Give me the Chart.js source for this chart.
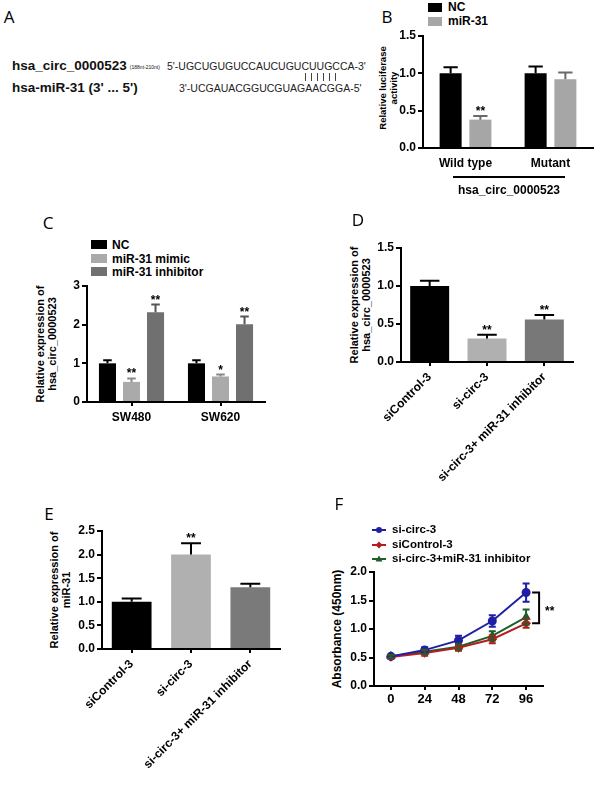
<!DOCTYPE html>
<html>
<head>
<meta charset="utf-8">
<script src="https://cdn.jsdelivr.net/npm/chart.js@4.4.1/dist/chart.umd.min.js"></script>
<style>
  html, body { margin: 0; padding: 0; background: #fff; }
  #page { position: relative; width: 600px; height: 785px; overflow: hidden;
          font-family: 'Liberation Sans', Arial, sans-serif; color: #000; }
  canvas { position: absolute; }
  .t { position: absolute; white-space: nowrap; line-height: 1; }
  .mid { transform: translate(-50%, -50%); }
  .vmid { transform: translateY(-50%); }
  .letter { font-family: 'Open Sans', sans-serif; font-size: 17px; }
  .ytitle { position: absolute; white-space: nowrap; text-align: center; font-weight: bold;
            font-size: 11px; line-height: 12px; transform: translate(-50%, -50%) rotate(-90deg); }
  .leg { position: absolute; white-space: nowrap; font-weight: bold; font-size: 12px; line-height: 1;
         transform: translateY(-50%); }
  .sw { position: absolute; }
  .seq { font-size: 10.5px; color: #222; }
  .pair { position: absolute; top: 73px; width: 1px; height: 8px; background: #444; }
</style>
</head>
<body>
<div id="page">

  <!-- A -->
  <div class="t letter mid" style="left:9px;top:16px">A</div>
  <div class="t vmid" style="left:12px;top:66px;font-weight:bold;font-size:13.5px;color:#111">hsa_circ_0000523<span style="font-size:5px;font-weight:normal;margin-left:3px;vertical-align:1px">(188nt-210nt)</span></div>
  <div class="t vmid seq" style="left:167px;top:66px">5'-UGCUGUGUCCAUCUGUCUUGCCA-3'</div>
  <div class="pair" style="left:305px"></div>
  <div class="pair" style="left:311px"></div>
  <div class="pair" style="left:317px"></div>
  <div class="pair" style="left:323px"></div>
  <div class="pair" style="left:329px"></div>
  <div class="pair" style="left:335px"></div>
  <div class="t vmid" style="left:12px;top:88px;font-weight:bold;font-size:13.5px;color:#111">hsa-miR-31 (3' ... 5')</div>
  <div class="t vmid seq" style="left:179px;top:88px">3'-UCGAUACGGUCGUAGAACGGA-5'</div>

  <!-- B -->
  <div class="t letter mid" style="left:387px;top:16px">B</div>
  <div class="sw" style="left:428px;top:3px;width:14px;height:9px;background:#000"></div>
  <div class="leg" style="left:448px;top:7px">NC</div>
  <div class="sw" style="left:428px;top:17px;width:14px;height:9px;background:#a6a6a6"></div>
  <div class="leg" style="left:448px;top:21px">miR-31</div>
  <div class="ytitle" style="left:388px;top:88px;font-size:9.5px;line-height:11px">Relative luciferase<br>activity</div>
  <canvas id="chartB" width="207" height="174" style="left:393px;top:26px"></canvas>
  <div style="position:absolute;left:453px;top:176px;width:112px;height:2px;background:#000"></div>
  <div class="t mid" style="left:509px;top:190px;font-weight:bold;font-size:12px">hsa_circ_0000523</div>

  <!-- C -->
  <div class="t letter mid" style="left:48px;top:222px">C</div>
  <div class="sw" style="left:91px;top:240px;width:16px;height:9px;background:#000"></div>
  <div class="leg" style="left:112px;top:245px">NC</div>
  <div class="sw" style="left:91px;top:254px;width:16px;height:9px;background:#aaaaaa"></div>
  <div class="leg" style="left:112px;top:259px">miR-31 mimic</div>
  <div class="sw" style="left:91px;top:267px;width:16px;height:9px;background:#707070"></div>
  <div class="leg" style="left:112px;top:272px">miR-31 inhibitor</div>
  <div class="ytitle" style="left:46px;top:344px">Relative expression of<br>hsa_circ_0000523</div>
  <canvas id="chartC" width="215" height="154" style="left:57px;top:276px"></canvas>

  <!-- D -->
  <div class="t letter mid" style="left:358px;top:219px">D</div>
  <div class="ytitle" style="left:360px;top:305px">Relative expression of<br>hsa_circ_0000523</div>
  <canvas id="chartD" width="300" height="262" style="left:300px;top:238px"></canvas>

  <!-- E -->
  <div class="t letter mid" style="left:49px;top:513px">E</div>
  <div class="ytitle" style="left:60px;top:590px">Relative expression of<br>miR-31</div>
  <canvas id="chartE" width="300" height="264" style="left:0px;top:521px"></canvas>

  <!-- F -->
  <div class="t letter mid" style="left:339px;top:503px">F</div>
  <svg class="sw" style="left:370px;top:524px" width="18" height="42">
    <line x1="2" y1="6" x2="16" y2="6" stroke="#1f1fa6" stroke-width="2"/>
    <circle cx="9" cy="6" r="3" fill="#1f1fa6"/>
    <line x1="2" y1="21" x2="16" y2="21" stroke="#b41e1e" stroke-width="2"/>
    <path d="M9 17.5 L12.5 21 L9 24.5 L5.5 21 Z" fill="#b41e1e"/>
    <line x1="2" y1="35" x2="16" y2="35" stroke="#1e5e2c" stroke-width="2"/>
    <path d="M9 31.5 L12.5 37.5 L5.5 37.5 Z" fill="#1e5e2c"/>
  </svg>
  <div class="leg" style="left:392px;top:530px;font-size:11.5px">si-circ-3</div>
  <div class="leg" style="left:392px;top:545px;font-size:11.5px">siControl-3</div>
  <div class="leg" style="left:392px;top:559px;font-size:11.5px">si-circ-3+miR-31 inhibitor</div>
  <div class="ytitle" style="left:337px;top:629px;font-size:12px">Absorbance (450nm)</div>
  <canvas id="chartF" width="300" height="150" style="left:300px;top:562px"></canvas>
</div>

<script>
'use strict';

// B - luciferase
var bCategories = ['Wild type', 'Mutant'];
var bNC = [1.0, 1.0];
var bNCErr = [0.08, 0.09];
var bMiR = [0.38, 0.92];
var bMiRErr = [0.05, 0.09];
var bMiRMarks = ['**', ''];
var bTicks = [0, 0.5, 1.0, 1.5];

// C - expression after mimic / inhibitor
var cCategories = ['SW480', 'SW620'];
var cNC = [1.0, 1.0];
var cNCErr = [0.08, 0.08];
var cMimic = [0.52, 0.66];
var cMimicErr = [0.09, 0.05];
var cMimicMarks = ['**', '*'];
var cInhib = [2.32, 2.01];
var cInhibErr = [0.2, 0.2];
var cInhibMarks = ['**', '**'];
var cTicks = [0, 1, 2, 3];

// D - hsa_circ_0000523 expression
var dCategories = ['siControl-3', 'si-circ-3', 'si-circ-3+ miR-31 inhibitor'];
var dValues = [1.0, 0.31, 0.56];
var dErr = [0.07, 0.05, 0.06];
var dMarks = ['', '**', '**'];
var dTicks = [0, 0.5, 1.0, 1.5];

// E - miR-31 expression
var eCategories = ['siControl-3', 'si-circ-3', 'si-circ-3+ miR-31 inhibitor'];
var eValues = [1.0, 2.0, 1.31];
var eErr = [0.07, 0.24, 0.07];
var eMarks = ['', '**', ''];
var eTicks = [0, 0.5, 1.0, 1.5, 2.0, 2.5];

// F - CCK-8 absorbance
var fTimes = ['0', '24', '48', '72', '96'];
var fSiCirc = [0.52, 0.63, 0.80, 1.14, 1.64];
var fSiCircErr = [0.03, 0.05, 0.08, 0.10, 0.16];
var fSiControl = [0.51, 0.58, 0.67, 0.82, 1.10];
var fSiControlErr = [0.03, 0.05, 0.05, 0.07, 0.08];
var fRescue = [0.52, 0.60, 0.69, 0.88, 1.21];
var fRescueErr = [0.03, 0.04, 0.05, 0.08, 0.13];
var fTicks = [0, 0.5, 1.0, 1.5, 2.0];

Chart.defaults.font.family = "'Liberation Sans', Arial, sans-serif";
Chart.defaults.color = '#000';

var BOLD = { size: 12, weight: 'bold' };

// error bars + significance stars, drawn from the chart's own scales
var errorBarPlugin = {
  id: 'errorBars',
  afterDatasetsDraw: function (chart) {
    var ctx = chart.ctx;
    var y = chart.scales.y;
    chart.data.datasets.forEach(function (ds, di) {
      if (!ds.errors) return;
      var meta = chart.getDatasetMeta(di);
      meta.data.forEach(function (el, i) {
        var v = ds.data[i], e = ds.errors[i];
        var top = y.getPixelForValue(v + e);
        var bottom = ds.bothWays ? y.getPixelForValue(v - e) : el.y;
        var cap = ds.capWidth || (el.width * (ds.capRatio || 0.5));
        ctx.save();
        ctx.strokeStyle = ds.errorColor || '#000';
        ctx.lineWidth = 2;
        ctx.beginPath();
        ctx.moveTo(el.x, bottom);
        ctx.lineTo(el.x, top);
        ctx.moveTo(el.x - cap / 2, top);
        ctx.lineTo(el.x + cap / 2, top);
        if (ds.bothWays) {
          ctx.moveTo(el.x - cap / 2, bottom);
          ctx.lineTo(el.x + cap / 2, bottom);
        }
        ctx.stroke();
        if (ds.marks && ds.marks[i]) {
          ctx.fillStyle = '#000';
          ctx.font = 'bold 12px ' + Chart.defaults.font.family;
          ctx.textAlign = 'center';
          ctx.textBaseline = 'alphabetic';
          ctx.fillText(ds.marks[i], el.x, top - 1);
        }
        ctx.restore();
      });
    });
  }
};

// bracket on panel F between si-circ-3 and siControl-3 at the last time point
var bracketPlugin = {
  id: 'bracket',
  afterDraw: function (chart) {
    var ctx = chart.ctx;
    var last = fTimes.length - 1;
    var x0 = chart.scales.x.getPixelForValue(last) + 6;
    var x1 = x0 + 7;
    var yTop = chart.scales.y.getPixelForValue(fSiCirc[last]);
    var yBot = chart.scales.y.getPixelForValue(fSiControl[last]);
    ctx.save();
    ctx.strokeStyle = '#000';
    ctx.lineWidth = 2;
    ctx.beginPath();
    ctx.moveTo(x0, yTop); ctx.lineTo(x1, yTop); ctx.lineTo(x1, yBot); ctx.lineTo(x0, yBot);
    ctx.stroke();
    ctx.fillStyle = '#000';
    ctx.font = 'bold 12px ' + Chart.defaults.font.family;
    ctx.textAlign = 'left';
    ctx.textBaseline = 'alphabetic';
    ctx.fillText('**', x1 + 6, (yTop + yBot) / 2 + 7);
    ctx.restore();
  }
};

function yAxis(ticks, width, digits) {
  return {
    min: ticks[0],
    max: ticks[ticks.length - 1],
    afterBuildTicks: function (s) {
      s.ticks = ticks.map(function (v) { return { value: v }; });
    },
    ticks: {
      font: BOLD,
      padding: 2,
      callback: function (v) { return Number(v).toFixed(digits); }
    },
    grid: { drawOnChartArea: false, drawTicks: true, tickLength: 5, color: '#000', lineWidth: 2 },
    border: { color: '#000', width: 2 },
    afterFit: function (s) { s.width = width; }
  };
}

function xAxis(height, o) {
  return {
    offset: true,
    ticks: {
      font: o.font || BOLD,
      padding: o.padding,
      autoSkip: false,
      maxRotation: o.rot || 0,
      minRotation: o.rot || 0
    },
    grid: { drawOnChartArea: false, drawTicks: o.ticks !== false, tickLength: 4, color: '#000', lineWidth: 2, offset: false },
    border: { color: '#000', width: 2 },
    afterFit: function (s) { s.height = height; }
  };
}

function makeChart(id, type, labels, datasets, yTicks, digits, dims, xOpts, extra) {
  return new Chart(document.getElementById(id), {
    type: type,
    data: { labels: labels, datasets: datasets },
    options: {
      responsive: false,
      animation: false,
      layout: { padding: dims.pad },
      plugins: { legend: { display: false }, tooltip: { enabled: false } },
      scales: { x: xAxis(dims.xh, xOpts), y: yAxis(yTicks, dims.yw, digits) }
    },
    plugins: [errorBarPlugin].concat(extra || [])
  });
}

makeChart('chartB', 'bar', bCategories, [
  { data: bNC, backgroundColor: '#000', errors: bNCErr, errorColor: '#000', capRatio: 0.65,
    categoryPercentage: 0.7, barPercentage: 0.74 },
  { data: bMiR, backgroundColor: '#a6a6a6', errors: bMiRErr, errorColor: '#6a6a6a', capRatio: 0.65,
    marks: bMiRMarks, categoryPercentage: 0.7, barPercentage: 0.74 }
], bTicks, 1, { pad: { top: 10, right: 7, left: 0, bottom: 0 }, yw: 30, xh: 52 }, { ticks: false, padding: 8 });

makeChart('chartC', 'bar', cCategories, [
  { data: cNC, backgroundColor: '#000', errors: cNCErr, errorColor: '#000',
    categoryPercentage: 0.81, barPercentage: 0.71 },
  { data: cMimic, backgroundColor: '#aaaaaa', errors: cMimicErr, errorColor: '#8a8a8a', marks: cMimicMarks,
    categoryPercentage: 0.81, barPercentage: 0.71 },
  { data: cInhib, backgroundColor: '#707070', errors: cInhibErr, errorColor: '#555555', marks: cInhibMarks,
    categoryPercentage: 0.81, barPercentage: 0.71 }
], cTicks, 0, { pad: { top: 10, right: 7, left: 0, bottom: 0 }, yw: 30, xh: 28 }, { padding: 4 });

makeChart('chartD', 'bar', dCategories, [
  { data: dValues, backgroundColor: ['#000', '#b0b0b0', '#787878'], errors: dErr,
    errorColor: '#000', marks: dMarks, categoryPercentage: 1, barPercentage: 0.68 }
], dTicks, 1, { pad: { top: 10, right: 27, left: 0, bottom: 0 }, yw: 101, xh: 138 }, { rot: 45, padding: 4 });

makeChart('chartE', 'bar', eCategories, [
  { data: eValues, backgroundColor: ['#000', '#b0b0b0', '#7a7a7a'], errors: eErr,
    errorColor: '#000', marks: eMarks, categoryPercentage: 1, barPercentage: 0.67 }
], eTicks, 1, { pad: { top: 10, right: 20, left: 0, bottom: 0 }, yw: 102, xh: 136 }, { rot: 45, padding: 4 });

function lineSet(label, data, err, color, style) {
  return {
    label: label, data: data, errors: err, bothWays: true, capWidth: 7,
    borderColor: color, backgroundColor: color, errorColor: color,
    borderWidth: 2, pointStyle: style, pointRadius: 3.5, tension: 0
  };
}

makeChart('chartF', 'line', fTimes, [
  lineSet('si-circ-3', fSiCirc, fSiCircErr, '#1f1fa6', 'circle'),
  lineSet('siControl-3', fSiControl, fSiControlErr, '#b41e1e', 'rectRot'),
  lineSet('si-circ-3+miR-31 inhibitor', fRescue, fRescueErr, '#1e5e2c', 'triangle')
], fTicks, 1, { pad: { top: 10, right: 57, left: 0, bottom: 0 }, yw: 74, xh: 26 },
  { font: { size: 13, weight: 'bold' }, padding: 2 }, [bracketPlugin]);
</script>
</body>
</html>
